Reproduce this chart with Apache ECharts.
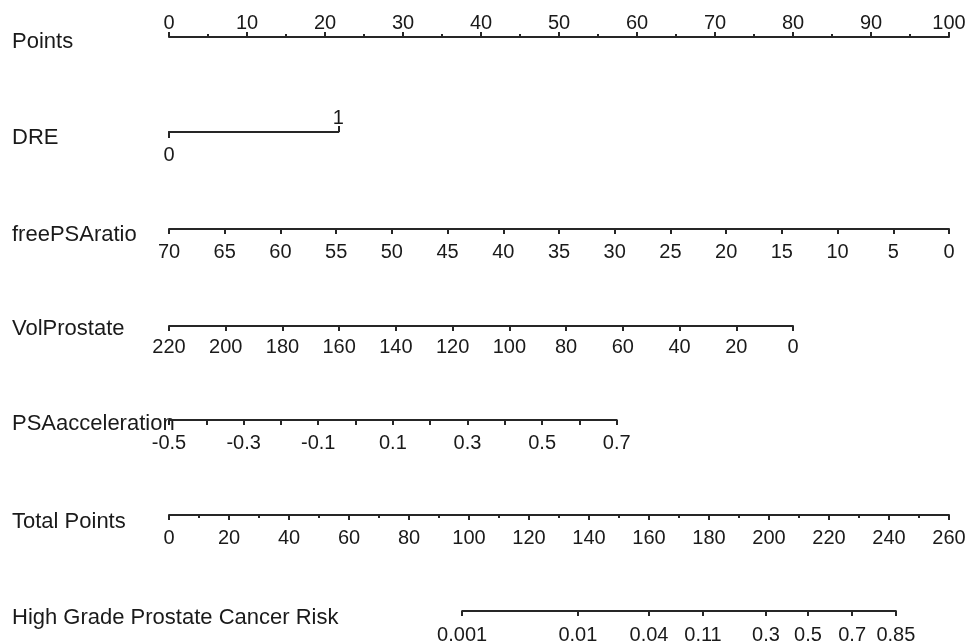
<!DOCTYPE html>
<html>
<head>
<meta charset="utf-8">
<script src="https://cdn.jsdelivr.net/npm/echarts@6/dist/echarts.min.js"></script>
<style>
  html, body { margin: 0; padding: 0; background: #ffffff; }
  #chart { width: 968px; height: 642px; }
</style>
</head>
<body>
<div id="chart"></div>
<script>
// Nomogram scales
const rowTitles = ['Points', 'DRE', 'freePSAratio', 'VolProstate', 'PSAacceleration', 'Total Points', 'High Grade Prostate Cancer Risk'];
const pointsTicks = [0, 10, 20, 30, 40, 50, 60, 70, 80, 90, 100];
const dreValues = [0, 1];
const freePSAratioTicks = [70, 65, 60, 55, 50, 45, 40, 35, 30, 25, 20, 15, 10, 5, 0];
const volProstateTicks = [220, 200, 180, 160, 140, 120, 100, 80, 60, 40, 20, 0];
const psaAccelerationTicks = [-0.5, -0.4, -0.3, -0.2, -0.1, 0, 0.1, 0.2, 0.3, 0.4, 0.5, 0.6, 0.7];
const psaAccelerationLabels = [-0.5, -0.3, -0.1, 0.1, 0.3, 0.5, 0.7];
const totalPointsTicks = [0, 20, 40, 60, 80, 100, 120, 140, 160, 180, 200, 220, 240, 260];
const riskLabels = ['0.001', '0.01', '0.04', '0.11', '0.3', '0.5', '0.7', '0.85'];
const riskTotalPoints = [97.7, 136.3, 160, 178, 199, 213, 227.7, 242.3];
// Points reached at the far end of each predictor scale: DRE, freePSAratio, VolProstate, PSAacceleration
const predictorMaxPoints = [21.7, 100, 80, 57.4];

// Layout
const AXIS_LEFT = 169;
const AXIS_WIDTH = 780;
const lineY = [37, 132, 229, 326, 420, 515, 611];
const titleY = [42.5, 138.5, 236, 330, 424.5, 523, 618.5];
const FONT = "'Liberation Sans', Arial, sans-serif";
const LABEL_SIZE = 20;
const INK = '#1a1a1a';
const LINE = '#262626';

const minOf = a => Math.min.apply(null, a);
const maxOf = a => Math.max.apply(null, a);
const totalMax = maxOf(totalPointsTicks);

function grid(row, left, width) {
  return { left: left, top: lineY[row], width: width, height: 0, outerBoundsMode: 'none' };
}
function label(margin, extra) {
  return Object.assign({ show: true, color: INK, fontSize: LABEL_SIZE, fontFamily: FONT, margin: margin }, extra);
}
function tick(length, extra) {
  return Object.assign({ show: true, length: length, lineStyle: { color: LINE, width: 2 } }, extra);
}
function base(gridIndex, position, extra) {
  return Object.assign({
    type: 'value',
    gridIndex: gridIndex,
    position: position,
    splitLine: { show: false },
    axisLine: { show: true, lineStyle: { color: LINE, width: 2 } },
    axisTick: tick(5),
    axisLabel: label(13)
  }, extra);
}

const grids = [
  grid(0, AXIS_LEFT, AXIS_WIDTH),
  grid(1, AXIS_LEFT, AXIS_WIDTH * predictorMaxPoints[0] / 100),
  grid(2, AXIS_LEFT, AXIS_WIDTH * predictorMaxPoints[1] / 100),
  grid(3, AXIS_LEFT, AXIS_WIDTH * predictorMaxPoints[2] / 100),
  grid(4, AXIS_LEFT, AXIS_WIDTH * predictorMaxPoints[3] / 100),
  grid(5, AXIS_LEFT, AXIS_WIDTH),
  grid(6, AXIS_LEFT + AXIS_WIDTH * riskTotalPoints[0] / totalMax,
       AXIS_WIDTH * (riskTotalPoints[riskTotalPoints.length - 1] - riskTotalPoints[0]) / totalMax)
];

const xAxes = [
  base(0, 'top', {
    min: minOf(pointsTicks), max: maxOf(pointsTicks), interval: 10,
    minorTick: { show: true, splitNumber: 2, length: 3, lineStyle: { color: LINE, width: 2 } },
    axisLabel: label(4)
  }),
  base(1, 'bottom', {
    min: minOf(dreValues), max: maxOf(dreValues),
    axisTick: tick(6, { customValues: [dreValues[0]] }),
    axisLabel: label(13.5, { customValues: [dreValues[0]] })
  }),
  base(1, 'top', {
    min: minOf(dreValues), max: maxOf(dreValues),
    axisTick: tick(6, { customValues: [dreValues[1]] }),
    axisLabel: label(4, { customValues: [dreValues[1]] })
  }),
  base(2, 'bottom', {
    min: minOf(freePSAratioTicks), max: maxOf(freePSAratioTicks), interval: 5, inverse: true,
    axisLabel: label(13)
  }),
  base(3, 'bottom', {
    min: minOf(volProstateTicks), max: maxOf(volProstateTicks), interval: 20, inverse: true,
    axisLabel: label(11.25)
  }),
  base(4, 'bottom', {
    min: minOf(psaAccelerationTicks), max: maxOf(psaAccelerationTicks),
    axisTick: tick(5, { customValues: psaAccelerationTicks }),
    axisLabel: label(13.5, {
      customValues: psaAccelerationLabels,
      formatter: v => Number(v).toFixed(1)
    })
  }),
  base(5, 'bottom', {
    min: minOf(totalPointsTicks), max: maxOf(totalPointsTicks), interval: 20,
    minorTick: { show: true, splitNumber: 2, length: 3, lineStyle: { color: LINE, width: 2 } },
    axisLabel: label(13.5)
  }),
  base(6, 'bottom', {
    min: riskTotalPoints[0], max: riskTotalPoints[riskTotalPoints.length - 1],
    axisTick: tick(5, { customValues: riskTotalPoints }),
    axisLabel: label(14, {
      customValues: riskTotalPoints,
      formatter: v => {
        let best = 0;
        riskTotalPoints.forEach((p, i) => { if (Math.abs(p - v) < Math.abs(riskTotalPoints[best] - v)) best = i; });
        return riskLabels[best];
      }
    })
  })
];

const yAxes = grids.map((g, i) => ({ type: 'value', gridIndex: i, show: false, min: -1, max: 1 }));

const titles = rowTitles.map((t, i) => ({
  type: 'text',
  left: 12,
  top: titleY[i] - 12,
  style: { text: t, fill: INK, fontSize: 22, fontFamily: FONT, verticalAlign: 'top' },
  silent: true
}));

const chart = echarts.init(document.getElementById('chart'), null, { renderer: 'canvas' });
chart.setOption({
  animation: false,
  backgroundColor: '#ffffff',
  grid: grids,
  xAxis: xAxes,
  yAxis: yAxes,
  graphic: titles,
  series: []
});
</script>
</body>
</html>
